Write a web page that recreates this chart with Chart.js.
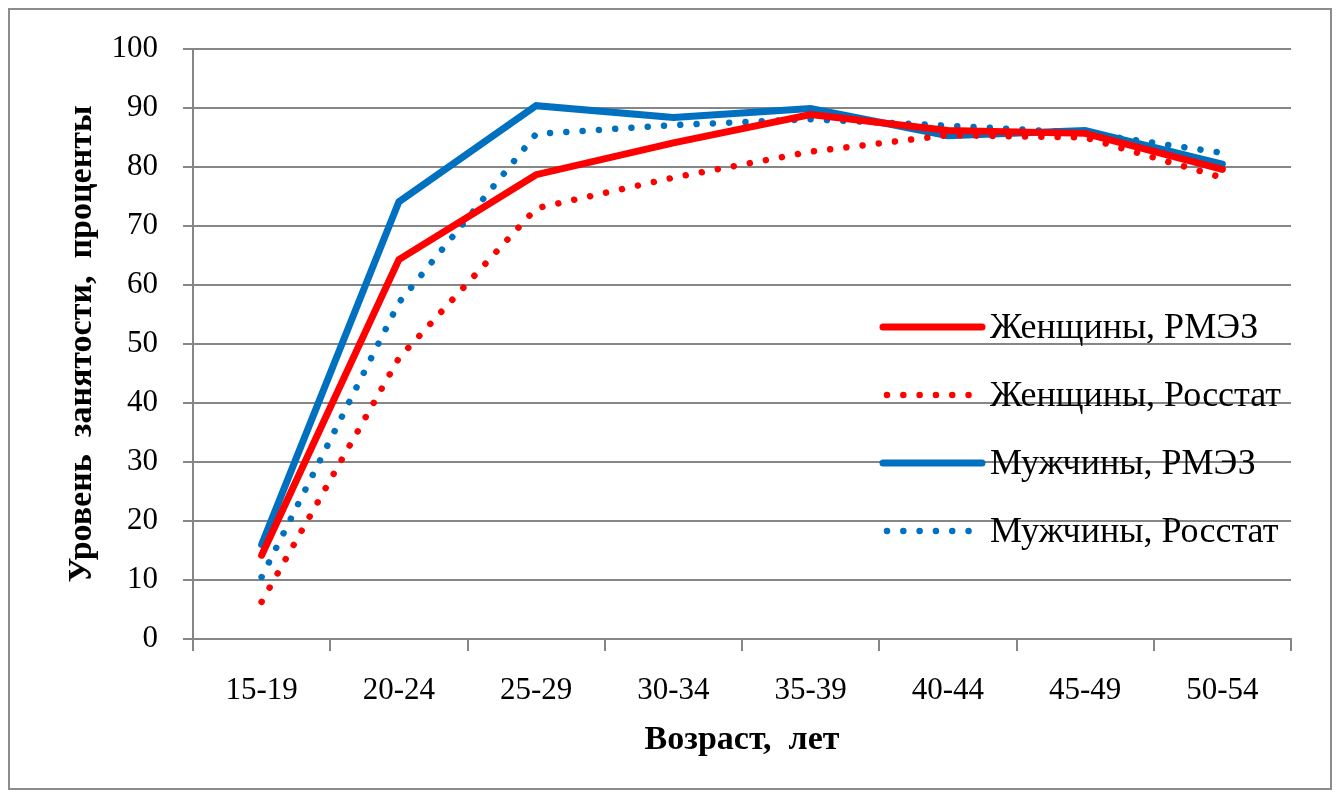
<!DOCTYPE html>
<html>
<head>
<meta charset="utf-8">
<script src="https://cdn.jsdelivr.net/npm/chart.js@4.4.1/dist/chart.umd.min.js"></script>
<style>
  html, body { margin:0; padding:0; background:#fff; }
  #wrap { position:relative; width:1337px; height:798px; }
  #frame { position:absolute; left:8px; top:8px; width:1324px; height:782px; border:2px solid #8c8c8c; box-sizing:border-box; pointer-events:none; }
</style>
</head>
<body>
<div id="wrap">
  <canvas id="chart" width="1337" height="798"></canvas>
  <div id="frame"></div>
</div>
<script>
// --- data ---
const ageGroups = ['15-19','20-24','25-29','30-34','35-39','40-44','45-49','50-54'];
const womenRlms = [14.2, 64.3, 78.7, 84.1, 88.9, 86.2, 85.7, 79.6];
const womenRosstat = [6.3, 47.6, 73.0, 78.2, 82.6, 85.4, 85.0, 78.2];
const menRlms = [16.0, 74.1, 90.4, 88.4, 89.9, 85.3, 86.2, 80.5];
const menRosstat = [10.5, 57.0, 85.6, 87.1, 88.1, 87.0, 85.8, 82.4];
const seriesNames = ['Женщины, РМЭЗ', 'Женщины, Росстат', 'Мужчины, РМЭЗ', 'Мужчины, Росстат'];
const yTicks = [0, 10, 20, 30, 40, 50, 60, 70, 80, 90, 100];

const RED = '#FF0000', BLUE = '#0070C0', GRID = '#868686';
const FONT = "'Liberation Serif', 'Times New Roman', serif";

function solid(label, data, color) {
  return { label: label, data: data, borderColor: color, backgroundColor: color,
    borderWidth: 7, pointRadius: 0, tension: 0, borderJoinStyle: 'miter', borderCapStyle: 'round' };
}
function dotted(label, data, color) {
  return { label: label, data: data, borderColor: color, backgroundColor: color,
    borderWidth: 6.5, pointRadius: 0, tension: 0, borderCapStyle: 'round', borderDash: [0.01, 16.3] };
}

// Legend drawn inside the plot area, to the right
const innerLegend = {
  id: 'innerLegend',
  afterDatasetsDraw(chart) {
    const ctx = chart.ctx, a = chart.chartArea;
    const x0 = a.left + 690, x1 = a.left + 789, tx = a.left + 797;
    ctx.save();
    ctx.font = '36px ' + FONT;
    ctx.fillStyle = '#000';
    ctx.textBaseline = 'middle';
    chart.data.datasets.forEach(function(ds, i) {
      const y = a.top + 278 + i * 68;
      ctx.beginPath();
      ctx.strokeStyle = ds.borderColor;
      ctx.lineWidth = ds.borderWidth;
      ctx.lineCap = 'round';
      ctx.setLineDash(ds.borderDash || []);
      ctx.moveTo(x0 + (ds.borderDash ? 4 : 0), y);
      ctx.lineTo(x1 - (ds.borderDash ? 4 : 0), y);
      ctx.stroke();
      ctx.setLineDash([]);
      ctx.fillText(ds.label, tx, y + 2);
    });
    ctx.restore();
  }
};

new Chart(document.getElementById('chart'), {
  type: 'line',
  data: {
    labels: ageGroups,
    datasets: [
      solid(seriesNames[0], womenRlms, RED),
      dotted(seriesNames[1], womenRosstat, RED),
      solid(seriesNames[2], menRlms, BLUE),
      dotted(seriesNames[3], menRosstat, BLUE)
    ]
  },
  options: {
    responsive: false, animation: false,
    layout: { padding: { left: 8, top: 49, right: 46, bottom: 18 } },
    plugins: { legend: { display: false }, tooltip: { enabled: false } },
    scales: {
      x: {
        offset: true,
        grid: { offset: true, drawOnChartArea: false, color: GRID, lineWidth: 2, tickLength: 12, tickColor: GRID },
        border: { color: GRID, width: 2 },
        ticks: { color: '#000', font: { family: FONT, size: 31 }, padding: 21, maxRotation: 0 },
        title: { display: true, text: 'Возраст,  лет', color: '#000', font: { family: FONT, size: 34, weight: 'bold' }, padding: { top: 0, bottom: 19 } },
        afterFit: function(s) { s.height = 141; }
      },
      y: {
        min: 0, max: 100,
        afterBuildTicks: function(s) { s.ticks = yTicks.map(function(v){ return { value: v }; }); },
        grid: { color: GRID, lineWidth: 2, tickLength: 10, tickColor: GRID },
        border: { color: GRID, width: 2 },
        ticks: { color: '#000', font: { family: FONT, size: 31 }, padding: 25 },
        title: { display: true, text: 'Уровень  занятости,  проценты', color: '#000', font: { family: FONT, size: 34, weight: 'bold' }, padding: { top: 54, bottom: 0 } },
        afterFit: function(s) { s.width = 185; }
      }
    }
  },
  plugins: [innerLegend]
});
</script>
</body>
</html>
